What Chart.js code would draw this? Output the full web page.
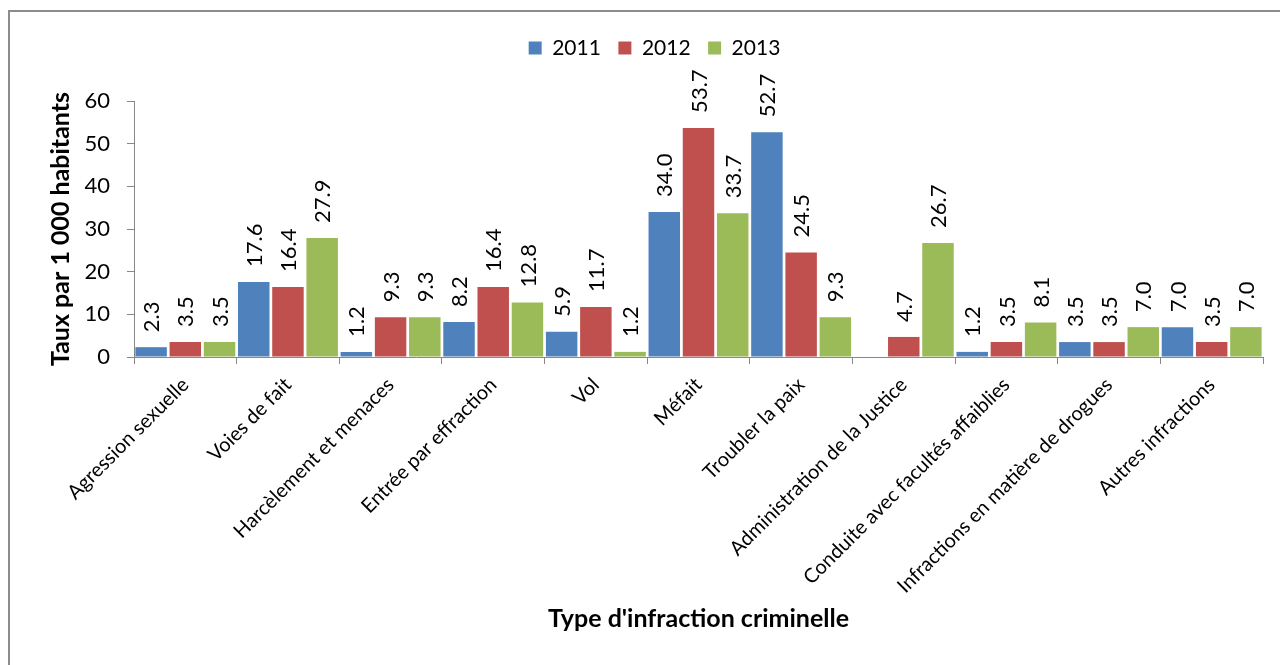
<!DOCTYPE html>
<html>
<head>
<meta charset="utf-8">
<script src="https://cdn.jsdelivr.net/npm/chart.js@4.4.1/dist/chart.umd.min.js"></script>
<style>
  html, body { margin: 0; padding: 0; background: #fff; overflow: hidden; }
  #frame { position: absolute; left: 8px; top: 10px; width: 1300px; height: 700px; border: 2px solid #8c8c8c; }
  #wrap { position: absolute; left: 0; top: 0; width: 1280px; height: 665px; }
</style>
</head>
<body>
<div id="frame"></div>
<div id="wrap"><canvas id="chart" width="1280" height="665"></canvas></div>
<script>
const categories = [
  'Agression sexuelle',
  'Voies de fait',
  'Harcèlement et menaces',
  'Entrée par effraction',
  'Vol',
  'Méfait',
  'Troubler la paix',
  'Administration de la Justice',
  'Conduite avec facultés affaiblies',
  'Infractions en matière de drogues',
  'Autres infractions'
];
const years = ['2011', '2012', '2013'];
const values2011 = [2.3, 17.6, 1.2, 8.2, 5.9, 34.0, 52.7, null, 1.2, 3.5, 7.0];
const values2012 = [3.5, 16.4, 9.3, 16.4, 11.7, 53.7, 24.5, 4.7, 3.5, 3.5, 3.5];
const values2013 = [3.5, 27.9, 9.3, 12.8, 1.2, 33.7, 9.3, 26.7, 8.1, 7.0, 7.0];
const colors = ['#4F81BD', '#C0504D', '#9BBB59'];
const yTicks = [0, 10, 20, 30, 40, 50, 60];

const FONT = 'Lato';

// rotated value labels above each bar
const valueLabels = {
  id: 'valueLabels',
  afterDatasetsDraw(chart) {
    const ctx = chart.ctx;
    ctx.save();
    ctx.font = '22px ' + FONT;
    ctx.fillStyle = '#000';
    ctx.textAlign = 'left';
    ctx.textBaseline = 'middle';
    chart.data.datasets.forEach((ds, i) => {
      chart.getDatasetMeta(i).data.forEach((bar, j) => {
        const v = ds.data[j];
        if (v === null || v === undefined) return;
        ctx.save();
        ctx.translate(bar.x + 1, bar.y - 15);
        ctx.rotate(-Math.PI / 2);
        ctx.fillText(v.toFixed(1), 0, 0);
        ctx.restore();
      });
    });
    ctx.restore();
  }
};

// fixed legend height so the plot starts where the reference does
const legendHeight = {
  id: 'legendHeight',
  beforeInit(chart) {
    const fit = chart.legend.fit;
    chart.legend.fit = function () {
      fit.bind(chart.legend)();
      this.height = 81;
    };
  }
};

function draw() {
  const ctx = document.getElementById('chart').getContext('2d');
  new Chart(ctx, {
    type: 'bar',
    data: {
      labels: categories,
      datasets: [values2011, values2012, values2013].map((d, i) => ({
        label: years[i],
        data: d,
        backgroundColor: colors[i],
        borderWidth: 0,
        categoryPercentage: 1,
        barPercentage: 0.92
      }))
    },
    options: {
      responsive: false,
      animation: false,
      layout: { padding: { top: 20, left: 46, right: 17, bottom: 31 } },
      scales: {
        y: {
          min: 0,
          max: 60,
          afterBuildTicks: (s) => { s.ticks = yTicks.map(v => ({ value: v })); },
          afterFit: (s) => { s.width = 88; },
          border: { color: '#888', width: 1 },
          grid: { drawOnChartArea: false, drawTicks: true, tickLength: 7, color: '#888' },
          ticks: { color: '#000', padding: 17, font: { family: FONT, size: 22 } },
          title: {
            display: true,
            text: 'Taux par 1 000 habitants',
            color: '#000',
            padding: 0,
            font: { family: FONT, size: 25, weight: 'bold' }
          }
        },
        x: {
          afterFit: (s) => { s.height = 277; },
          border: { color: '#888', width: 1 },
          grid: { drawOnChartArea: false, drawTicks: true, tickLength: 7, color: '#888', offset: true },
          ticks: {
            color: '#000',
            padding: 9,
            minRotation: 45,
            maxRotation: 45,
            autoSkip: false,
            font: { family: FONT, size: 20 }
          },
          title: {
            display: true,
            text: "Type d'infraction criminelle",
            color: '#000',
            padding: 0,
            font: { family: FONT, size: 25, weight: 'bold' }
          }
        }
      },
      plugins: {
        legend: {
          position: 'top',
          labels: {
            color: '#000',
            boxWidth: 13,
            boxHeight: 13,
            padding: 17.5,
            font: { family: FONT, size: 21 }
          }
        },
        tooltip: { enabled: false }
      }
    },
    plugins: [valueLabels, legendHeight]
  });
}

Promise.all([
  document.fonts.load('22px ' + FONT),
  document.fonts.load('bold 25px ' + FONT)
]).then(draw, draw);
</script>
</body>
</html>
